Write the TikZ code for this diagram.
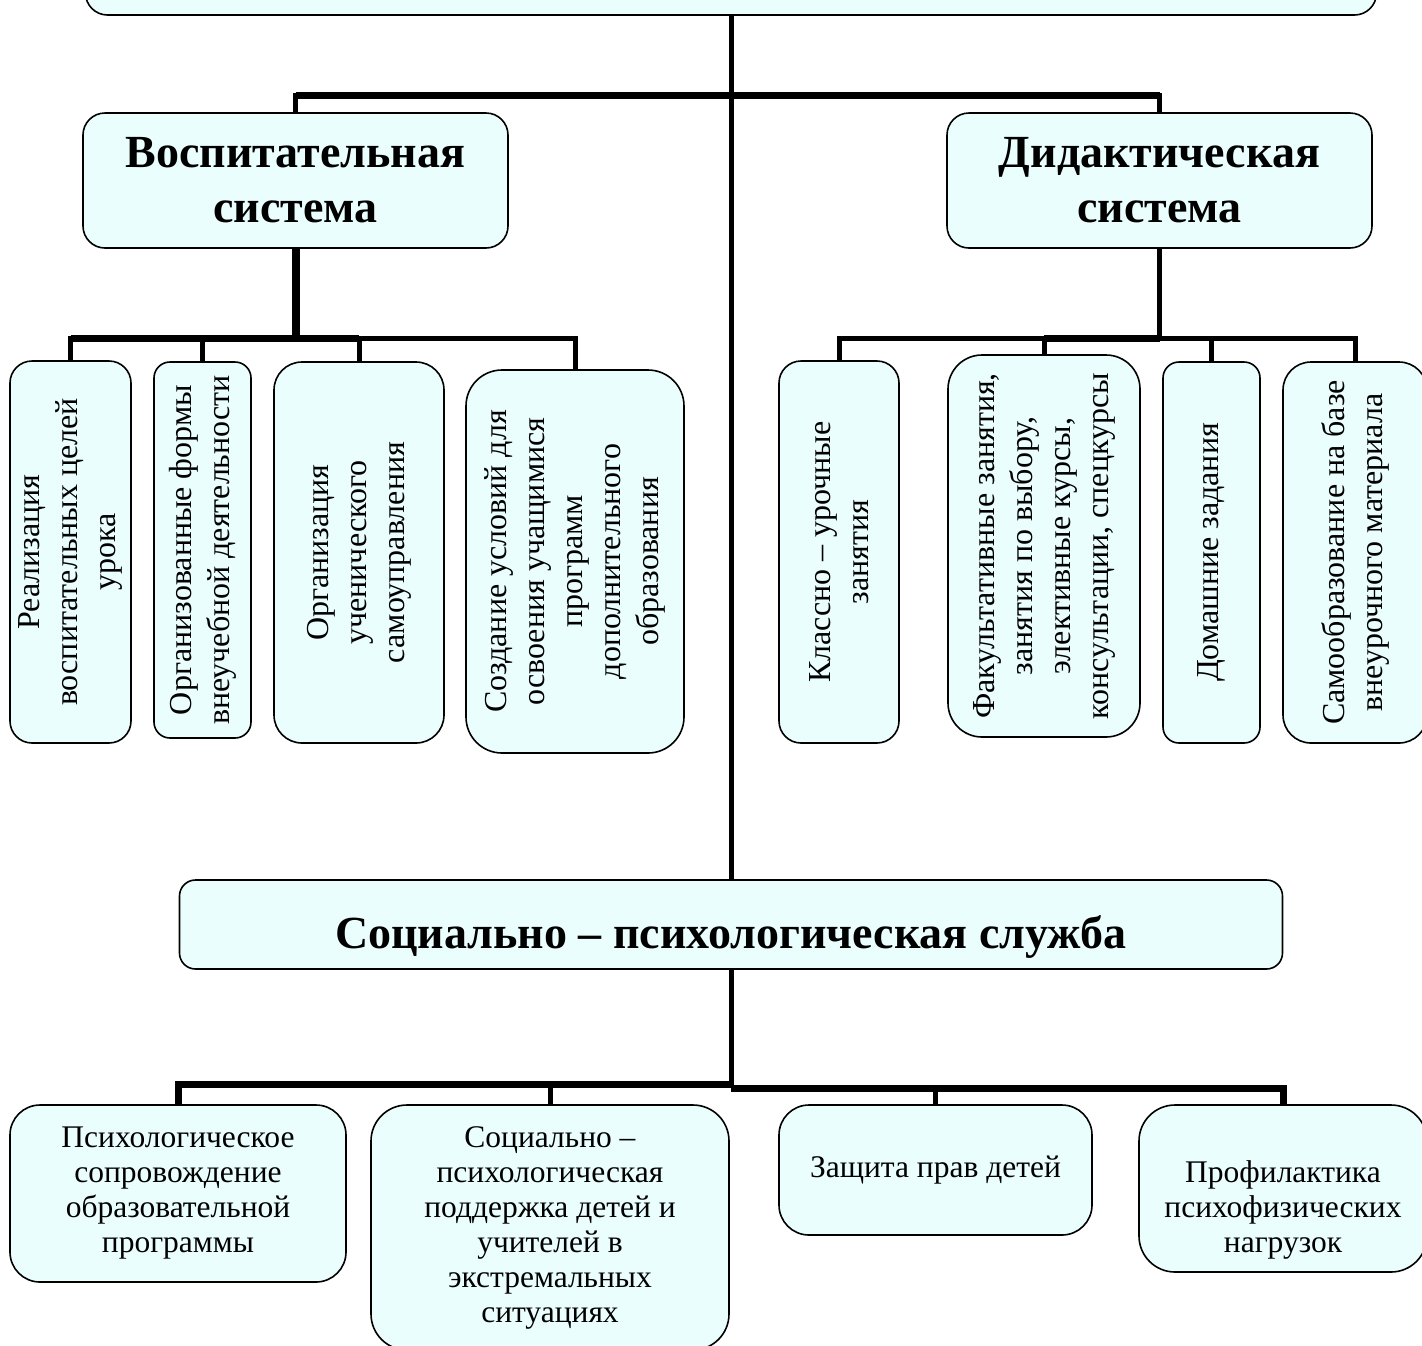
\documentclass[tikz,border=0pt]{standalone}
\usepackage{fontspec}
\setmainfont{Liberation Serif}
\definecolor{boxcyan}{RGB}{235,254,254}

\begin{document}
\begin{tikzpicture}[x=1pt,y=-1pt,
    blok/.style={draw,line width=1.6pt,fill=boxcyan,rounded corners=22pt,
      align=center,inner sep=0pt},
    head/.style={blok,font=\fontsize{46}{55}\selectfont\bfseries},
    vblok/.style={blok,rotate=90,font=\fontsize{32}{38}\selectfont},
    hblok/.style={blok,rounded corners=30pt,font=\fontsize{31.5}{35}\selectfont},
    link/.style={line width=5pt},
    bar/.style={line width=7pt}]
  \useasboundingbox (0,0) rectangle (1422,1345);

  \node[blok,minimum width=1291pt,minimum height=100pt] (top) at (731,-35) {};

  \node[head,minimum width=425pt,minimum height=135pt] (vs) at (295.5,180.5)
    {Воспитательная\\система};
  \node[head,minimum width=425pt,minimum height=135pt] (ds) at (1159.5,180.5)
    {Дидактическая\\система};

  % left row
  \node[vblok,minimum width=382pt,minimum height=121pt] (r1) at (70.5,552)
    {Реализация\\воспитательных целей\\урока};
  \node[vblok,minimum width=376pt,minimum height=97pt,rounded corners=16pt] (r2) at (202.5,550)
    {Организованные формы\\внеучебной деятельности};
  \node[vblok,minimum width=381pt,minimum height=170pt,rounded corners=28pt] (r3) at (359,552.5)
    {Организация\\ученического\\самоуправления};
  \node[vblok,minimum width=383pt,minimum height=218pt,rounded corners=36pt] (r4) at (575,561.5)
    {Создание условий для\\освоения учащимися\\программ\\дополнительного\\образования};

  % right row
  \node[vblok,minimum width=382pt,minimum height=120pt] (d1) at (839,552)
    {Классно -- урочные\\занятия};
  \node[vblok,minimum width=382pt,minimum height=192pt,rounded corners=34pt] (d2) at (1044,546)
    {Факультативные занятия,\\занятия по выбору,\\элективные курсы,\\консультации, спецкурсы};
  \node[vblok,minimum width=381pt,minimum height=97pt,rounded corners=16pt] (d3) at (1211.5,552.5)
    {Домашние задания};
  \node[vblok,minimum width=381pt,minimum height=144pt,rounded corners=28pt] (d4) at (1355,552.5)
    {Самообразование на базе\\внеурочного материала};

  \node[head,minimum width=1103pt,minimum height=89pt,rounded corners=16pt,
    text height=58pt,text depth=10pt] (soc) at (731,924.5)
    {Социально -- психологическая служба};

  % bottom row
  \node[hblok,minimum width=336pt,minimum height=177pt] (p1) at (178,1193.5)
    {Психологическое\\сопровождение\\образовательной\\программы};
  \node[hblok,minimum width=358pt,minimum height=245pt,rounded corners=36pt] (p2) at (550,1227.5)
    {Социально --\\психологическая\\поддержка детей и\\учителей в\\экстремальных\\ситуациях};
  \node[hblok,minimum width=313pt,minimum height=130pt] (p3) at (935.5,1170)
    {Защита прав детей};
  \node[hblok,minimum width=288pt,minimum height=167pt,rounded corners=36pt,
    text height=134pt] (p4) at (1283,1188.5)
    {Профилактика\\психофизических\\нагрузок};

  % top -> systems
  \draw[link] (top.south) -- (soc.north);
  \coordinate (tb) at (731,95);
  \draw[link] (vs.north) |- (tb) -| (ds.north);
  \draw[bar] (vs.north |- tb) -- (ds.north |- tb);

  % vs -> left row
  \draw[line width=8pt] (vs.south) -- ++(0,90) coordinate (vb);
  \draw[link] (r1.east) |- (vb) -| (r4.east);
  \draw[bar] (r1.east |- vb) -- (r3.east |- vb);
  \draw[link] (r2.east) -- (r2.east |- vb);
  \draw[link] (r3.east) -- (r3.east |- vb);

  % ds -> right row
  \draw[link] (ds.south) -- ++(0,90) coordinate (db);
  \draw[link] (d1.east) |- (db) -| (d4.east);
  \draw[bar] (d2.east |- db) -- (db);
  \draw[link] (d2.east) -- (d2.east |- db);
  \draw[link] (d3.east) -- (d3.east |- db);

  % soc -> bottom row
  \draw[link] (soc.south) -- ++(0,115) coordinate (sb);
  \draw[bar] (p1.north) |- (sb);
  \draw[bar] ([yshift=-4pt]sb) -| (p4.north);
  \draw[link] (p2.north) -- (p2.north |- sb);
  \draw[link] (p3.north) -- ([yshift=-4pt]p3.north |- sb);
\end{tikzpicture}
\end{document}
